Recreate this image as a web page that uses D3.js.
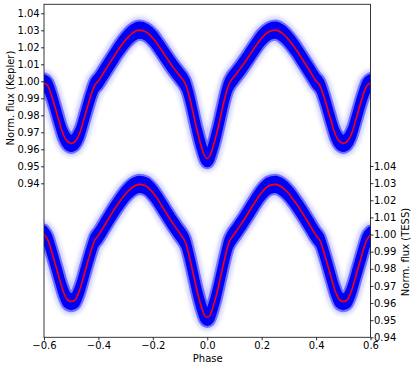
<!DOCTYPE html>
<html lang="en">
<head>
<meta charset="utf-8">
<title>Phased light curves</title>
<script src="https://d3js.org/d3.v7.min.js"></script>
<style>
  body { margin: 0; background: #fff; }
  svg text { font-family: "DejaVu Sans", sans-serif; font-size: 10px; fill: #000; }
</style>
</head>
<body>
<svg id="chart" width="415" height="369"></svg>
<script>
// orbital phase of the model points
var phase = [-0.600, -0.585, -0.570, -0.550, -0.530, -0.515, -0.500, -0.485, -0.470, -0.450,
             -0.430, -0.415, -0.400, -0.375, -0.350, -0.325, -0.300, -0.275, -0.250, -0.225,
             -0.200, -0.175, -0.150, -0.125, -0.100, -0.088, -0.078, -0.065, -0.050, -0.035,
             -0.020, -0.010, 0.000, 0.010, 0.020, 0.035, 0.050, 0.065, 0.078, 0.088,
             0.100, 0.125, 0.150, 0.175, 0.200, 0.225, 0.250, 0.275, 0.300, 0.325,
             0.350, 0.375, 0.400, 0.415, 0.430, 0.450, 0.470, 0.485, 0.500, 0.515,
             0.530, 0.550, 0.570, 0.585, 0.600];

// model flux, Kepler (left axis)
var keplerFlux = [0.9990, 0.9970, 0.9905, 0.9795, 0.9690, 0.9648, 0.9635, 0.9648, 0.9690, 0.9795,
                  0.9905, 0.9972, 1.0002, 1.0065, 1.0128, 1.0190, 1.0243, 1.0283, 1.0301, 1.0290,
                  1.0255, 1.0200, 1.0140, 1.0082, 1.0030, 1.0005, 0.9975, 0.9905, 0.9800, 0.9695,
                  0.9608, 0.9562, 0.9545, 0.9562, 0.9608, 0.9695, 0.9800, 0.9905, 0.9975, 1.0005,
                  1.0030, 1.0082, 1.0140, 1.0200, 1.0255, 1.0290, 1.0301, 1.0283, 1.0243, 1.0190,
                  1.0128, 1.0065, 1.0002, 0.9972, 0.9905, 0.9795, 0.9690, 0.9648, 0.9635, 0.9648,
                  0.9690, 0.9795, 0.9905, 0.9970, 0.9992];

// model flux, TESS (right axis)
var tessFlux = [1.0002, 0.9965, 0.9890, 0.9780, 0.9672, 0.9620, 0.9608, 0.9620, 0.9672, 0.9780,
                0.9890, 0.9962, 0.9995, 1.0060, 1.0125, 1.0185, 1.0238, 1.0276, 1.0293, 1.0283,
                1.0245, 1.0188, 1.0124, 1.0062, 1.0005, 0.9978, 0.9945, 0.9865, 0.9760, 0.9655,
                0.9570, 0.9528, 0.9517, 0.9528, 0.9570, 0.9655, 0.9760, 0.9865, 0.9945, 0.9978,
                1.0005, 1.0062, 1.0124, 1.0188, 1.0245, 1.0283, 1.0293, 1.0276, 1.0238, 1.0185,
                1.0125, 1.0060, 0.9995, 0.9962, 0.9890, 0.9780, 0.9672, 0.9620, 0.9608, 0.9620,
                0.9672, 0.9780, 0.9890, 0.9965, 0.9997];

// typical scatter of the observations around the model (flux units)
var scatter = 0.0027;

var phaseTicks = [-0.6, -0.4, -0.2, 0.0, 0.2, 0.4, 0.6];
var keplerTicks = [0.94, 0.95, 0.96, 0.97, 0.98, 0.99, 1.00, 1.01, 1.02, 1.03, 1.04];
var tessTicks = [0.94, 0.95, 0.96, 0.97, 0.98, 0.99, 1.00, 1.01, 1.02, 1.03, 1.04];

var svg = d3.select("#chart"),
    plotL = 44, plotR = 370.5, plotT = 4.3, plotB = 337.3;

var x = d3.scaleLinear().domain([-0.6, 0.6]).range([plotL, plotR]);
var yK = d3.scaleLinear().domain([0.94, 1.04]).range([183.3, 13.3]);
var yT = d3.scaleLinear().domain([0.94, 1.04]).range([337.3, 166]);

var defs = svg.append("defs");
defs.append("clipPath").attr("id", "plotclip")
  .append("rect").attr("x", plotL).attr("y", plotT)
  .attr("width", plotR - plotL).attr("height", plotB - plotT);
defs.append("filter").attr("id", "soft").attr("x", "-10%").attr("y", "-10%")
  .attr("width", "120%").attr("height", "120%")
  .append("feGaussianBlur").attr("stdDeviation", 2.2);
defs.append("filter").attr("id", "soft2").attr("x", "-10%").attr("y", "-10%")
  .attr("width", "120%").attr("height", "120%")
  .append("feGaussianBlur").attr("stdDeviation", 0.7);

var pts = phase.map(function (p, i) { return i; });

function band(y, flux) {
  return d3.area()
    .x(function (i) { return x(phase[i]); })
    .y0(function (i) { return y(flux[i] - scatter); })
    .y1(function (i) { return y(flux[i] + scatter); })
    .curve(d3.curveMonotoneX)(pts);
}
function model(y, flux) {
  return d3.line()
    .x(function (i) { return x(phase[i]); })
    .y(function (i) { return y(flux[i]); })
    .curve(d3.curveMonotoneX)(pts);
}

var plot = svg.append("g").attr("clip-path", "url(#plotclip)");

// observation clouds: faint halo, then dense core
[[yK, keplerFlux], [yT, tessFlux]].forEach(function (s) {
  var d = band(s[0], s[1]);
  plot.append("path").attr("d", d)
    .attr("fill", "#0000ff").attr("stroke", "#0000ff")
    .attr("stroke-width", 17).attr("stroke-linejoin", "round")
    .attr("opacity", 0.2).attr("filter", "url(#soft)");
  plot.append("path").attr("d", d)
    .attr("fill", "#0000ff").attr("stroke", "#0000ff")
    .attr("stroke-width", 12).attr("stroke-linejoin", "round")
    .attr("opacity", 0.45).attr("filter", "url(#soft2)");
  plot.append("path").attr("d", d)
    .attr("fill", "#0000f5").attr("stroke", "#0000f5")
    .attr("stroke-width", 8).attr("stroke-linejoin", "round")
    .attr("filter", "url(#soft2)");
});

[[yK, keplerFlux], [yT, tessFlux]].forEach(function (s) {
  plot.append("path").attr("d", model(s[0], s[1]))
    .attr("fill", "none").attr("stroke", "#ff0000")
    .attr("stroke-width", 1.6);
});

// frame
svg.append("rect")
  .attr("x", plotL).attr("y", plotT)
  .attr("width", plotR - plotL).attr("height", plotB - plotT)
  .attr("fill", "none").attr("stroke", "#222").attr("stroke-width", 0.9);

function styleAxis(g) {
  g.select(".domain").remove();
  g.selectAll(".tick line").attr("stroke", "#000").attr("stroke-width", 0.8);
  g.selectAll("text").attr("font-family", "DejaVu Sans").attr("font-size", 10).attr("fill", "#000");
}

svg.append("g").attr("transform", "translate(0," + plotB + ")")
  .call(d3.axisBottom(x).tickValues(phaseTicks).tickFormat(d3.format(".1f"))
    .tickSize(3).tickPadding(2))
  .call(styleAxis);

svg.append("g").attr("transform", "translate(" + plotL + ",0)")
  .call(d3.axisLeft(yK).tickValues(keplerTicks).tickFormat(d3.format(".2f"))
    .tickSize(3).tickPadding(1.3))
  .call(styleAxis);

svg.append("g").attr("transform", "translate(" + plotR + ",0)")
  .call(d3.axisRight(yT).tickValues(tessTicks).tickFormat(d3.format(".2f"))
    .tickSize(3).tickPadding(0.5))
  .call(styleAxis);

svg.append("text").attr("x", 207.7).attr("y", 362.3)
  .attr("text-anchor", "middle").text("Phase");

svg.append("text")
  .attr("transform", "translate(13.5,98) rotate(-90)")
  .attr("text-anchor", "middle").text("Norm. flux (Kepler)");

svg.append("text")
  .attr("transform", "translate(408.5,252) rotate(-90)")
  .attr("text-anchor", "middle").text("Norm. flux (TESS)");
</script>
</body>
</html>
